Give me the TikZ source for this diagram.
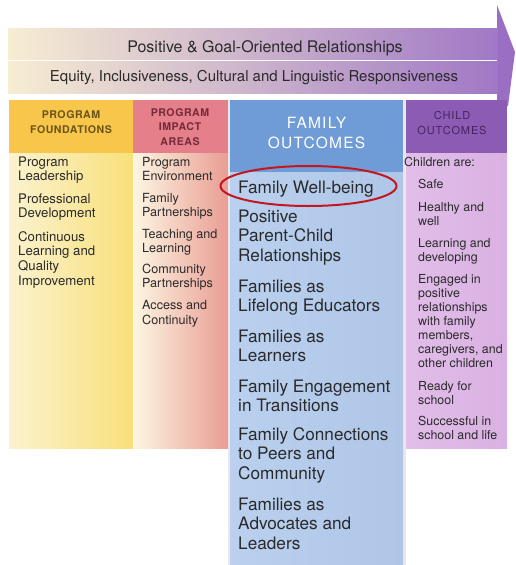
\documentclass[tikz,border=0pt]{standalone}
\usepackage{fontspec}
\setmainfont{TeX Gyre Heros}
\newfontfamily\hdf[LetterSpace=8]{TeX Gyre Heros}
\newfontfamily\hdbf[LetterSpace=5]{TeX Gyre Heros Bold}
\usetikzlibrary{shapes.geometric}
\definecolor{bandL}{HTML}{F7EDD2}
\definecolor{bandM}{HTML}{E0C3D6}
\definecolor{bandR}{HTML}{A078C6}
\definecolor{headc}{HTML}{9A6EC2}
\definecolor{pfh}{HTML}{F7C64B}
\definecolor{pfL}{HTML}{FBF2CF}
\definecolor{pfR}{HTML}{F8E07A}
\definecolor{pih}{HTML}{E5808B}
\definecolor{piL}{HTML}{FDF6E2}
\definecolor{piR}{HTML}{E99B92}
\definecolor{foh}{HTML}{6F9BD7}
\definecolor{foL}{HTML}{BAD0EE}
\definecolor{foR}{HTML}{AFC6E8}
\definecolor{coh}{HTML}{8C5BB3}
\definecolor{coL}{HTML}{E2BEE9}
\definecolor{coR}{HTML}{D9B1E2}
\definecolor{pfht}{HTML}{6B5419}
\definecolor{piht}{HTML}{76293A}
\definecolor{coht}{HTML}{47245F}
\definecolor{txt}{HTML}{2A2A2A}
\definecolor{ringc}{HTML}{C3161E}
\tikzset{
  bandtext/.style={anchor=base, inner sep=0, text=txt},
  pfhead/.style={anchor=base, inner sep=0, align=center, text=pfht, font=\hdbf\fontsize{10.6}{15.5}\selectfont},
  pihead/.style={anchor=base, inner sep=0, align=center, text=piht, font=\hdbf\fontsize{10.6}{14.2}\selectfont},
  fohead/.style={anchor=base, inner sep=0, align=center, text=white, font=\hdf\fontsize{15.5}{20}\selectfont},
  cohead/.style={anchor=base, inner sep=0, align=center, text=coht, font=\hdf\fontsize{11}{15.5}\selectfont},
  pfitem/.style={anchor=base west, inner sep=0, align=left, text=txt, font=\fontsize{13.2}{14.8}\selectfont},
  piitem/.style={anchor=base west, inner sep=0, align=left, text=txt, font=\fontsize{12.6}{14.5}\selectfont},
  foitem/.style={anchor=base west, inner sep=0, align=left, text=txt, font=\fontsize{17.2}{19.8}\selectfont},
  coitem/.style={anchor=base west, inner sep=0, align=left, text=txt, font=\fontsize{12.4}{14}\selectfont},
}
\begin{document}
\begin{tikzpicture}[x=1pt,y=-1pt]
\useasboundingbox (0,0) rectangle (515,565);
\fill[white] (0,0) rectangle (515,565);
% arrow
\fill[headc] (497,5) -- (515,52) -- (508,106) -- (497,106) -- cycle;
\shade[left color=bandL, middle color=bandM, right color=bandR] (8,28) rectangle (497.5,59);
\shade[left color=bandL, middle color=bandM, right color=bandR] (8,61) rectangle (497.5,93);
\node[bandtext, font=\fontsize{16}{18}\selectfont] (rel) at (265,52.5) {Positive \& Goal-Oriented Relationships};
\node[bandtext, font=\fontsize{15}{17}\selectfont] (eq) at (254,81.5) {Equity, Inclusiveness, Cultural and Linguistic Responsiveness};
% columns
\fill[pfh] (9,100) rectangle (133,153);
\shade[left color=pfL, right color=pfR] (9,153) rectangle (133,448);
\fill[pih] (133,100) rectangle (230,153);
\shade[left color=piL, right color=piR] (133,153) rectangle (230,448);
\fill[coh] (403,100) rectangle (507,153);
\shade[left color=coL, right color=coR] (403,153) rectangle (507,448);
\fill[black!9] (227.5,100) rectangle (405.5,565);
\fill[foh] (230,100) rectangle (403,172);
\shade[left color=foL, right color=foR] (230,172) rectangle (403,565);
% headers (base = last line)
\node[pfhead] (pfhd) at (71,133.8) {PROGRAM\\FOUNDATIONS};
\node[pihead] (pihd) at (180,145.1) {PROGRAM\\IMPACT\\AREAS};
\node[fohead] (fohd) at (316.5,148) {FAMILY\\OUTCOMES};
\node[cohead] (cohd) at (452,134.5) {CHILD\\OUTCOMES};
% program foundations
\node[pfitem] (pf1) at (18,180.8) {Program\\Leadership};
\node[pfitem] (pf2) at (18,217.8) {Professional\\Development};
\node[pfitem] (pf3) at (18,285.4) {Continuous\\Learning and\\Quality\\Improvement};
% program impact areas
\node[piitem] (pi1) at (142,180.5) {Program\\Environment};
\node[piitem] (pi2) at (142,216.5) {Family\\Partnerships};
\node[piitem] (pi3) at (142,252.5) {Teaching and\\Learning};
\node[piitem] (pi4) at (142,287.5) {Community\\Partnerships};
\node[piitem] (pi5) at (142,324) {Access and\\Continuity};
% family outcomes
\node[foitem] (fo1) at (238,193) {Family Well-being};
\node[foitem] (fo2) at (238,261.6) {Positive\\Parent-Child\\Relationships};
\node[foitem] (fo3) at (238,311.8) {Families as\\Lifelong Educators};
\node[foitem] (fo4) at (238,361.8) {Families as\\Learners};
\node[foitem] (fo5) at (238,411.8) {Family Engagement\\in Transitions};
\node[foitem] (fo6) at (238,479.6) {Family Connections\\to Peers and\\Community};
\node[foitem] (fo7) at (238,549.6) {Families as\\Advocates and\\Leaders};
% child outcomes
\node[coitem] (co0) at (404,166) {Children are:};
\node[coitem] (co1) at (418,188) {Safe};
\node[coitem] (co2) at (418,225) {Healthy and\\well};
\node[coitem] (co3) at (418,261) {Learning and\\developing};
\node[coitem] (co4) at (418,367) {Engaged in\\positive\\relationships\\with family\\members,\\caregivers, and\\other children};
\node[coitem] (co5) at (418,404) {Ready for\\school};
\node[coitem] (co6) at (418,439) {Successful in\\school and life};
% highlight ring
\node[draw=ringc, line width=2pt, ellipse, minimum width=176pt, minimum height=40pt, inner sep=0] (ring) at (308.5,186) {};
\end{tikzpicture}
\end{document}
